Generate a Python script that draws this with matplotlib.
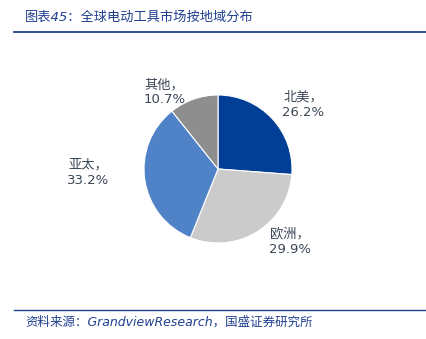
import matplotlib
matplotlib.use("Agg")
import matplotlib.pyplot as plt
from matplotlib.lines import Line2D

plt.rcParams["font.family"] = ["DejaVu Sans", "Noto Sans CJK SC"]

REGIONS = ["北美", "欧洲", "亚太", "其他"]
SHARES = [26.2, 29.9, 33.2, 10.7]
COLORS = ["#003f95", "#cbcbcb", "#4f82c6", "#8e8e8e"]

# label anchor points in pie units (radius = 1)
LABEL_XY = [(1.15, 0.87), (0.97, -0.98), (-1.75, -0.05), (-0.72, 1.04)]

TITLE = "图表45：全球电动工具市场按地域分布"
SOURCE = "资料来源：GrandviewResearch，国盛证券研究所"

BLUE = "#1f3f8f"
LABEL_COLOR = "#3b4656"

W, H = 427, 339
fig = plt.figure(figsize=(W / 100, H / 100), dpi=100)

# pie: centre (218, 169) px, radius 74 px
cx, cy, r = 218, 169, 74
ax = fig.add_axes([(cx - r) / W, (H - cy - r) / H, 2 * r / W, 2 * r / H])
ax.pie(
    SHARES,
    colors=COLORS,
    startangle=90,
    counterclock=False,
    radius=1,
    wedgeprops={"edgecolor": "white", "linewidth": 0.8},
)
ax.set_xlim(-1, 1)
ax.set_ylim(-1, 1)
ax.axis("off")

for name, val, (x, y) in zip(REGIONS, SHARES, LABEL_XY):
    ax.text(x, y, f"{name}，\n{val:.1f}%", ha="center", va="center",
            fontsize=9.5, color=LABEL_COLOR, linespacing=1.2, clip_on=False)

# header and footer
fig.text(25 / W, 1 - 17 / H, TITLE, ha="left", va="center", fontsize=9.5,
         color=BLUE, style="italic")
fig.add_artist(Line2D([14 / W, 1], [1 - 32 / H, 1 - 32 / H], color=BLUE,
                      linewidth=1.3, transform=fig.transFigure))
fig.add_artist(Line2D([14 / W, 1], [1 - 310 / H, 1 - 310 / H], color=BLUE,
                      linewidth=1.0, transform=fig.transFigure))
fig.text(25 / W, 1 - 322 / H, SOURCE, ha="left", va="center", fontsize=9,
         color=BLUE, style="italic")

fig.savefig("out.png", dpi=100, facecolor="white")
